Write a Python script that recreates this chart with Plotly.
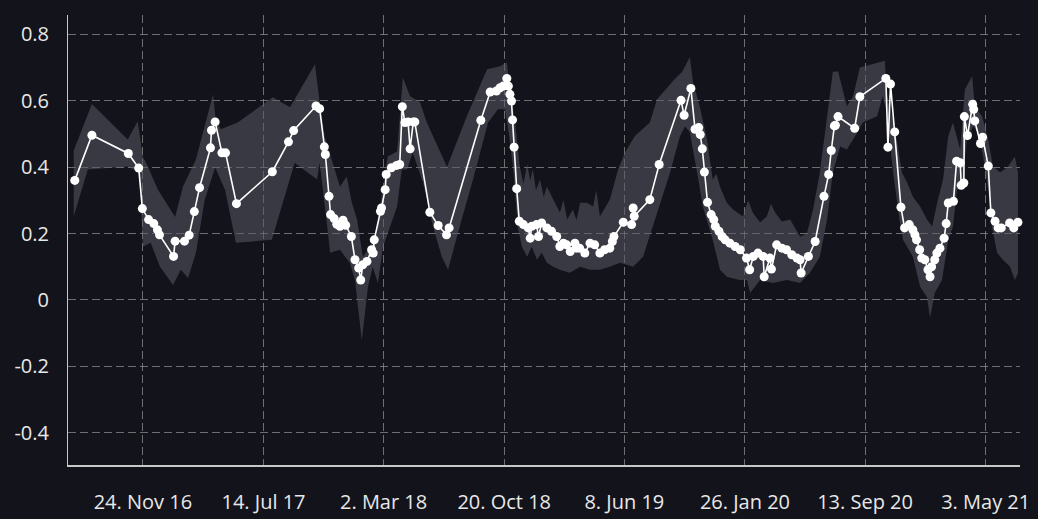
import plotly.graph_objects as go

# ---- main series (date, value) ----
series_dates = [
    "2016-07-16","2016-08-18","2016-10-27","2016-11-16","2016-11-23","2016-12-05","2016-12-15","2016-12-22","2016-12-26",
    "2017-01-22","2017-01-25","2017-02-12","2017-02-21","2017-03-03","2017-03-13","2017-04-03","2017-04-05","2017-04-12",
    "2017-04-25","2017-05-02","2017-05-23","2017-07-31","2017-08-31","2017-09-10","2017-10-23","2017-10-30","2017-11-08",
    "2017-11-10","2017-11-17","2017-11-20","2017-11-27","2017-12-02","2017-12-08","2017-12-14","2017-12-19","2017-12-30",
    "2018-01-06","2018-01-13","2018-01-17","2018-01-21","2018-01-29","2018-02-07","2018-02-10","2018-02-12","2018-02-24",
    "2018-02-26","2018-03-05","2018-03-07","2018-03-17","2018-03-27","2018-04-02","2018-04-07","2018-04-12","2018-04-18",
    "2018-04-22","2018-04-28","2018-05-01","2018-05-30","2018-06-15","2018-07-01","2018-07-06","2018-09-05","2018-09-23",
    "2018-10-05","2018-10-12","2018-10-18","2018-10-25","2018-10-28","2018-10-31","2018-11-03","2018-11-05","2018-11-08",
    "2018-11-13","2018-11-18","2018-11-26","2018-12-05","2018-12-09","2018-12-12","2018-12-21","2018-12-25","2018-12-31",
    "2019-01-10","2019-01-19","2019-01-29","2019-02-04","2019-02-11","2019-02-17","2019-02-24","2019-03-05","2019-03-08",
    "2019-03-14","2019-03-24","2019-04-03","2019-04-12","2019-04-22","2019-05-01","2019-05-11","2019-05-16","2019-05-19",
    "2019-06-06","2019-06-22","2019-06-25","2019-06-27","2019-07-27","2019-08-14","2019-09-25","2019-10-01","2019-10-14",
    "2019-10-22","2019-10-29","2019-11-01","2019-11-05","2019-11-09","2019-11-15","2019-11-22","2019-11-27","2019-11-30",
    "2019-12-07","2019-12-13","2019-12-19","2019-12-28","2020-01-07","2020-01-17","2020-01-29","2020-02-04","2020-02-11",
    "2020-02-20","2020-03-01","2020-03-03","2020-03-14","2020-03-17","2020-03-27","2020-04-06","2020-04-15","2020-04-25",
    "2020-05-05","2020-05-11","2020-05-13","2020-05-27","2020-06-09","2020-06-26","2020-07-05","2020-07-10","2020-07-16",
    "2020-07-18","2020-07-23","2020-08-24","2020-09-03","2020-10-23","2020-10-27","2020-11-01","2020-11-09","2020-11-21",
    "2020-11-28","2020-12-07","2020-12-14","2020-12-18","2020-12-21","2020-12-27","2020-12-31","2021-01-06","2021-01-12",
    "2021-01-16","2021-01-19","2021-01-25","2021-01-29","2021-02-04","2021-02-12","2021-02-16","2021-02-20","2021-03-02",
    "2021-03-08","2021-03-15","2021-03-17","2021-03-22","2021-03-23","2021-03-29","2021-04-08","2021-04-10","2021-04-12",
    "2021-04-23","2021-04-27","2021-05-08","2021-05-13","2021-05-21","2021-05-27","2021-06-02","2021-06-18","2021-06-26",
    "2021-07-04",
]
series_vals = [
    0.36,0.496,0.441,0.397,0.275,0.242,0.23,0.211,0.196,
    0.131,0.177,0.177,0.195,0.266,0.338,0.458,0.511,0.536,
    0.443,0.443,0.29,0.386,0.476,0.51,0.584,0.576,0.461,
    0.438,0.312,0.257,0.245,0.228,0.222,0.240,0.225,0.191,
    0.121,0.096,0.06,0.106,0.116,0.151,0.141,0.181,0.267,
    0.277,0.332,0.378,0.398,0.405,0.408,0.582,0.534,0.536,
    0.455,0.536,0.536,0.264,0.224,0.196,0.217,0.541,0.626,
    0.629,0.639,0.644,0.667,0.644,0.619,0.599,0.542,0.46,
    0.335,0.237,0.227,0.217,0.186,0.222,0.227,0.191,0.232,
    0.217,0.207,0.191,0.161,0.171,0.166,0.146,0.171,0.156,
    0.156,0.141,0.171,0.166,0.141,0.151,0.156,0.176,0.191,
    0.234,0.227,0.277,0.252,0.302,0.408,0.601,0.556,0.637,
    0.514,0.519,0.498,0.455,0.385,0.294,0.257,0.242,0.222,
    0.207,0.191,0.181,0.171,0.161,0.151,0.126,0.091,0.131,
    0.141,0.131,0.07,0.126,0.093,0.166,0.156,0.151,0.136,
    0.126,0.121,0.081,0.131,0.176,0.312,0.378,0.45,0.524,
    0.526,0.552,0.517,0.612,0.667,0.46,0.65,0.506,0.279,
    0.217,0.227,0.211,0.196,0.181,0.151,0.126,0.121,0.091,
    0.07,0.1,0.121,0.141,0.156,0.186,0.23,0.292,0.297,
    0.418,0.413,0.345,0.352,0.552,0.495,0.589,0.574,0.539,
    0.471,0.49,0.403,0.262,0.237,0.217,0.217,0.232,0.217,
    0.234,
]

# ---- range band: upper edge ----
band_hi_dates = [
    "2016-07-14","2016-08-18","2016-10-26","2016-11-14","2016-11-24","2016-12-04","2016-12-23","2017-01-25","2017-02-09",
    "2017-03-06","2017-04-08","2017-04-13","2017-04-23","2017-05-26","2017-08-01","2017-09-03","2017-10-21","2017-10-30",
    "2017-11-09","2017-11-28","2017-12-08","2017-12-21","2017-12-31","2018-01-10","2018-01-21","2018-02-04","2018-02-17",
    "2018-02-27","2018-03-10","2018-03-28","2018-04-08","2018-04-22","2018-05-11","2018-05-24","2018-07-02","2018-08-09",
    "2018-09-17","2018-10-12","2018-10-25","2018-10-31","2018-11-10","2018-11-19","2018-11-26","2018-12-03","2018-12-09",
    "2018-12-14","2018-12-20","2018-12-28","2019-01-04","2019-01-10","2019-01-22","2019-02-04","2019-02-11","2019-02-18",
    "2019-03-01","2019-03-08","2019-03-15","2019-03-28","2019-04-09","2019-04-15","2019-04-22","2019-05-11","2019-05-27",
    "2019-06-09","2019-06-28","2019-07-27","2019-08-10","2019-09-13","2019-09-27","2019-10-12","2019-10-18","2019-10-31",
    "2019-11-14","2019-11-25","2019-12-02","2019-12-09","2019-12-22","2020-01-03","2020-01-22","2020-02-01","2020-02-10",
    "2020-02-24","2020-03-08","2020-03-16","2020-03-24","2020-04-06","2020-04-22","2020-05-11","2020-05-24","2020-06-05",
    "2020-06-18","2020-07-02","2020-07-13","2020-07-23","2020-08-09","2020-08-21","2020-09-03","2020-10-21","2020-10-25",
    "2020-11-13","2020-11-23","2020-12-03","2020-12-14","2020-12-28","2021-01-10","2021-01-20","2021-01-31","2021-02-10",
    "2021-02-20","2021-03-01","2021-03-15","2021-03-24","2021-04-07","2021-04-12","2021-04-26","2021-05-08","2021-05-17",
    "2021-05-31","2021-06-15","2021-06-28","2021-07-04",
]
band_hi = [
    0.45,0.59,0.483,0.538,0.432,0.40,0.332,0.25,0.341,
    0.423,0.619,0.544,0.514,0.535,0.61,0.58,0.71,0.595,
    0.49,0.393,0.341,0.372,0.293,0.242,0.13,0.16,0.2,
    0.323,0.432,0.447,0.67,0.613,0.595,0.535,0.40,0.553,
    0.695,0.704,0.715,0.634,0.535,0.40,0.35,0.41,0.36,
    0.393,0.33,0.363,0.31,0.341,0.302,0.263,0.30,0.242,
    0.272,0.24,0.293,0.293,0.281,0.33,0.251,0.302,0.393,
    0.443,0.493,0.534,0.604,0.665,0.686,0.731,0.656,0.583,
    0.483,0.363,0.38,0.341,0.293,0.272,0.251,0.30,0.263,
    0.233,0.251,0.29,0.263,0.236,0.242,0.19,0.2,0.272,
    0.384,0.553,0.686,0.689,0.583,0.613,0.70,0.72,0.62,
    0.483,0.384,0.353,0.311,0.281,0.242,0.221,0.302,0.363,
    0.493,0.534,0.453,0.634,0.674,0.583,0.553,0.483,0.402,
    0.384,0.402,0.432,0.384,
]

# ---- range band: lower edge ----
band_lo_dates = [
    "2016-07-14","2016-08-10","2016-10-26","2016-11-18","2016-11-24","2016-12-09","2016-12-27","2017-01-21","2017-02-05",
    "2017-02-19","2017-03-06","2017-03-23","2017-04-12","2017-05-01","2017-05-22","2017-07-30","2017-09-12","2017-10-25",
    "2017-10-30","2017-11-05","2017-11-15","2017-11-19","2017-12-08","2017-12-27","2018-01-06","2018-01-19","2018-01-31",
    "2018-02-09","2018-02-19","2018-03-01","2018-03-14","2018-03-28","2018-04-06","2018-04-16","2018-04-27","2018-05-17",
    "2018-06-05","2018-06-22","2018-07-04","2018-07-23","2018-08-21","2018-09-19","2018-10-08","2018-10-21","2018-10-27",
    "2018-11-06","2018-11-15","2018-11-23","2018-12-03","2018-12-12","2018-12-22","2018-12-31","2019-01-10","2019-01-22",
    "2019-02-04","2019-02-23","2019-03-15","2019-04-03","2019-04-22","2019-05-11","2019-05-31","2019-06-25","2019-07-14",
    "2019-08-02","2019-09-04","2019-09-23","2019-10-03","2019-10-12","2019-10-26","2019-11-06","2019-11-25","2019-12-09",
    "2019-12-22","2020-01-16","2020-01-30","2020-02-05","2020-02-24","2020-03-20","2020-04-16","2020-05-11","2020-05-30",
    "2020-06-18","2020-07-02","2020-07-13","2020-07-27","2020-08-09","2020-08-21","2020-09-09","2020-10-06","2020-10-17",
    "2020-10-25","2020-11-06","2020-11-19","2020-11-25","2020-12-14","2020-12-28","2021-01-10","2021-01-16","2021-01-25",
    "2021-02-08","2021-02-20","2021-03-01","2021-03-09","2021-03-18","2021-03-28","2021-04-09","2021-04-18","2021-04-28",
    "2021-05-08","2021-05-15","2021-05-25","2021-06-05","2021-06-19","2021-06-28","2021-07-04",
]
band_lo = [
    0.251,0.393,0.402,0.384,0.16,0.172,0.10,0.045,0.091,
    0.066,0.142,0.302,0.399,0.332,0.172,0.181,0.413,0.363,
    0.413,0.323,0.202,0.142,0.151,0.112,0.06,-0.121,0.04,
    0.10,0.051,0.16,0.221,0.281,0.393,0.393,0.443,0.353,
    0.221,0.13,0.091,0.202,0.363,0.534,0.574,0.574,0.523,
    0.402,0.221,0.16,0.13,0.16,0.121,0.142,0.112,0.10,
    0.091,0.082,0.10,0.091,0.091,0.10,0.112,0.10,0.13,
    0.221,0.384,0.493,0.523,0.504,0.384,0.281,0.181,0.091,
    0.07,0.06,0.06,0.021,0.06,0.051,0.06,0.051,0.082,
    0.13,0.242,0.384,0.462,0.453,0.483,0.534,0.553,0.613,
    0.56,0.384,0.233,0.181,0.13,0.04,0.009,-0.054,0.021,
    0.06,0.181,0.221,0.332,0.341,0.483,0.523,0.504,0.432,
    0.332,0.221,0.142,0.121,0.10,0.06,0.08,
]

# ---- axes ----
x_tick_dates = ["2016-11-24","2017-07-14","2018-03-02","2018-10-20","2019-06-08","2020-01-26","2020-09-13","2021-05-03"]
x_tick_labels = ["24. Nov 16","14. Jul 17","2. Mar 18","20. Oct 18","8. Jun 19","26. Jan 20","13. Sep 20","3. May 21"]
y_tick_vals = [-0.4, -0.2, 0, 0.2, 0.4, 0.6, 0.8]
y_tick_labels = ["-0.4", "-0.2", "0", "0.2", "0.4", "0.6", "0.8"]

BG = "#13131b"
TXT = "#e8e8e8"
GRID = "rgba(150,150,150,0.7)"

fig = go.Figure()
fig.add_trace(go.Scatter(
    x=band_hi_dates + band_lo_dates[::-1],
    y=band_hi + band_lo[::-1],
    fill="toself", fillcolor="rgba(90,90,100,0.55)",
    line=dict(width=0), mode="lines", hoverinfo="skip", showlegend=False,
))
fig.add_trace(go.Scatter(
    x=series_dates, y=series_vals, mode="lines+markers",
    line=dict(color="#ffffff", width=1.6),
    marker=dict(color="#ffffff", size=9, line=dict(width=0)),
    cliponaxis=False, showlegend=False,
))

fig.update_layout(
    width=1038, height=519,
    paper_bgcolor=BG, plot_bgcolor=BG,
    margin=dict(l=68, r=18, t=15, b=54, autoexpand=False),
    font=dict(family="Open Sans", size=20, color=TXT),
    showlegend=False,
    xaxis=dict(
        type="date", range=["2016-07-03", "2021-07-08"],
        tickvals=x_tick_dates, ticktext=x_tick_labels,
        showgrid=True, gridcolor=GRID, gridwidth=1, griddash="8px,4px",
        showline=True, linecolor="#c8c8c8", linewidth=2,
        ticks="", ticklabelstandoff=18, zeroline=False, automargin=False,
        tickfont=dict(size=20, color=TXT),
    ),
    yaxis=dict(
        range=[-0.497, 0.858],
        tickvals=y_tick_vals, ticktext=y_tick_labels,
        showgrid=True, gridcolor=GRID, gridwidth=1, griddash="8px,4px",
        showline=True, linecolor="#c8c8c8", linewidth=1,
        ticks="", ticklabelstandoff=14, zeroline=False, automargin=False,
        tickfont=dict(size=20, color=TXT),
    ),
)

fig.write_html(
    "out.html",
    config={"displayModeBar": False},
    post_script="document.body.style.margin='0';document.body.style.background='%s';" % BG,
)
